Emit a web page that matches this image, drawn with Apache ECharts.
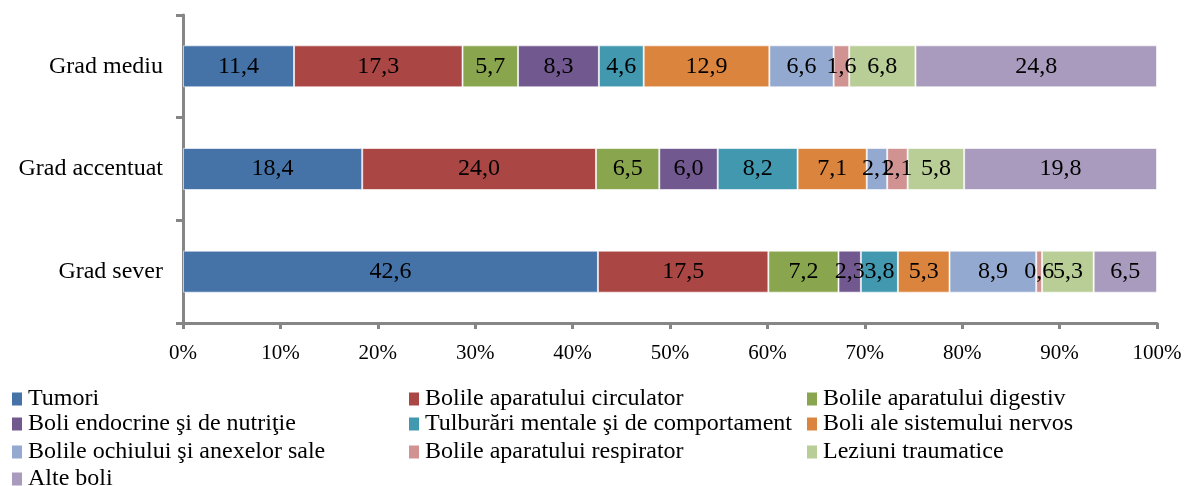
<!DOCTYPE html>
<html lang="ro">
<head>
    <meta charset="utf-8">
    <title>Grad de handicap</title>
    <script src="https://cdn.jsdelivr.net/npm/echarts@6/dist/echarts.min.js"></script>
</head>
<body style="margin:0;">
    <div id="main" style="width:1188px;height:486px;"></div>
    <script type="text/javascript">
        var categories = ['Grad mediu', 'Grad accentuat', 'Grad sever'];
        var names = ['Tumori', 'Bolile aparatului circulator', 'Bolile aparatului digestiv',
            'Boli endocrine şi de nutriţie', 'Tulburări mentale şi de comportament', 'Boli ale sistemului nervos',
            'Bolile ochiului şi anexelor sale', 'Bolile aparatului respirator', 'Leziuni traumatice',
            'Alte boli'];
        // values per category: mediu, accentuat, sever
        var tumori = [11.4, 18.4, 42.6];
        var circulator = [17.3, 24.0, 17.5];
        var digestiv = [5.7, 6.5, 7.2];
        var endocrine = [8.3, 6.0, 2.3];
        var mentale = [4.6, 8.2, 3.8];
        var nervos = [12.9, 7.1, 5.3];
        var ochiului = [6.6, 2.1, 8.9];
        var respirator = [1.6, 2.1, 0.6];
        var traumatice = [6.8, 5.8, 5.3];
        var alte = [24.8, 19.8, 6.5];

        var values = [tumori, circulator, digestiv, endocrine, mentale, nervos, ochiului, respirator, traumatice, alte];
        var colors = ['#4572A7', '#AA4643', '#89A54E', '#71588F', '#4198AF', '#DB843D', '#93A9CF', '#D19392', '#B9CD96', '#A99BBD'];
        var font = '"Liberation Serif", "Times New Roman", serif';

        var series = names.map(function (n, i) {
            return {
                name: n,
                type: 'bar',
                stack: 'total',
                barWidth: 42,
                data: values[i],
                itemStyle: { color: colors[i], borderColor: 'rgba(255,255,255,0.6)', borderWidth: 1 },
                label: {
                    show: true,
                    position: 'inside',
                    color: '#000',
                    fontFamily: font,
                    fontSize: 24,
                    formatter: function (p) { return p.value.toFixed(1).replace('.', ','); }
                }
            };
        });

        // legend: 3 columns
        var colX = [12, 409, 807];
        var rowY = [387, 412, 440, 467];
        var legends = names.map(function (n, i) {
            return {
                data: [n],
                left: colX[i % 3],
                top: rowY[Math.floor(i / 3)],
                itemWidth: 10,
                itemHeight: 13,
                itemGap: 0,
                icon: 'rect',
                padding: 0,
                itemStyle: { borderWidth: 0 },
                textStyle: { fontFamily: font, fontSize: 24, color: '#000', padding: [0, 0, 0, 1] }
            };
        });

        var myChart = echarts.init(document.getElementById('main'));
        myChart.setOption({
            animation: false,
            grid: { left: 183, right: 31, top: 15, bottom: 163 },
            legend: legends,
            xAxis: {
                type: 'value',
                min: 0,
                max: 100,
                interval: 10,
                axisLine: { show: true, lineStyle: { color: '#868686', width: 3 } },
                axisTick: { show: true, length: 6, lineStyle: { color: '#868686', width: 3 } },
                splitLine: { show: false },
                axisLabel: {
                    formatter: '{value}%',
                    margin: 20,
                    color: '#000',
                    fontFamily: font,
                    fontSize: 21
                }
            },
            yAxis: {
                type: 'category',
                inverse: true,
                data: categories,
                axisLine: { show: true, lineStyle: { color: '#868686', width: 3 } },
                axisTick: { show: true, length: 7, lineStyle: { color: '#868686', width: 3 } },
                axisLabel: {
                    margin: 20,
                    color: '#000',
                    fontFamily: font,
                    fontSize: 24
                }
            },
            series: series
        });
    </script>
</body>
</html>
